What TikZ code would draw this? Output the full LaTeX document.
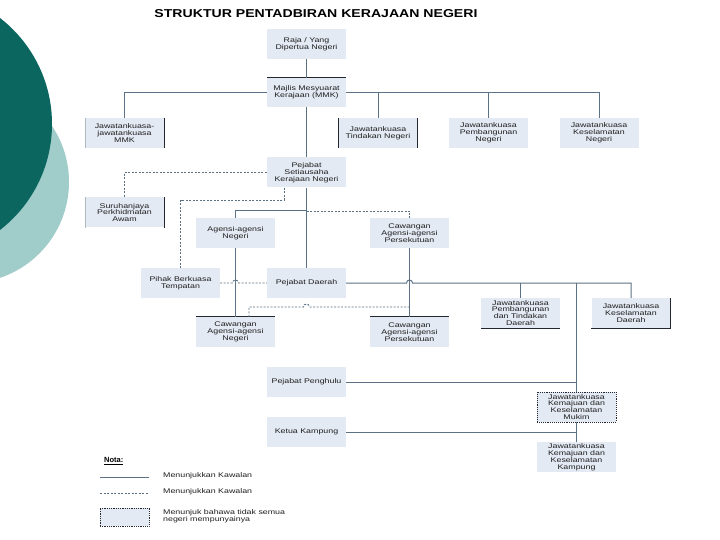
\documentclass[tikz,border=0pt]{standalone}
\usepackage{fontspec}
\setmainfont{Liberation Sans}
\newfontfamily\boxfnt[FakeStretch=1.3]{Liberation Sans}
\usetikzlibrary{calc}
\definecolor{boxfill}{RGB}{228,234,244}
\definecolor{lnc}{RGB}{92,114,132}
\definecolor{edgec}{RGB}{35,40,48}
\definecolor{darkteal}{RGB}{12,102,96}
\definecolor{lightteal}{RGB}{160,204,202}
\definecolor{txt}{RGB}{30,30,30}
\begin{document}
\begin{tikzpicture}[x=1pt,y=-1pt,
  box/.style={fill=boxfill, minimum width=79pt, minimum height=30pt, inner sep=1pt,
    align=center, font=\boxfnt\fontsize{6.8}{6.9}\selectfont, text=txt},
  conn/.style={draw=lnc, line width=1pt},
  dconn/.style={draw=lnc, line width=0.9pt, dash pattern=on 2pt off 1.5pt},
  edge/.style={draw=edgec, line width=1.1pt},
  legtext/.style={anchor=west, font=\boxfnt\fontsize{6.8}{7.2}\selectfont, text=txt, inner sep=0pt, align=left}]
\useasboundingbox (0,0) rectangle (720,540);
\fill[white] (0,0) rectangle (720,540);
% decoration
\begin{scope}
\clip (0,0) rectangle (720,540);
\fill[lightteal] (-32,182) circle[radius=101];
\fill[darkteal] (-82,124) circle[radius=134];
\end{scope}
% title
\node (title) at (316,14) {\resizebox{323pt}{8pt}{\bfseries STRUKTUR PENTADBIRAN KERAJAAN NEGERI}};
% nodes
\node[box] (raja)  at (306.5,44)  {Raja / Yang\\Dipertua Negeri};
\node[box, minimum height=29pt] (mmk) at (306.5,92.5) {Majlis Mesyuarat\\Kerajaan (MMK)};
\node[box] (jkmmk) at (124.5,133) {Jawatankuasa-\\jawatankuasa\\MMK};
\node[box] (tindn) at (378,133)   {Jawatankuasa\\Tindakan Negeri};
\node[box] (pemn)  at (488.5,133) {Jawatankuasa\\Pembangunan\\Negeri};
\node[box] (kesn)  at (599,133)   {Jawatankuasa\\Keselamatan\\Negeri};
\node[box] (suk)   at (306.5,172.5) {Pejabat\\Setiausaha\\Kerajaan Negeri};
\node[box] (spa)   at (124.5,212.5) {Suruhanjaya\\Perkhidmatan\\Awam};
\node[box] (agn)   at (235.5,233) {Agensi-agensi\\Negeri};
\node[box] (cpt)   at (409.5,233) {Cawangan\\Agensi-agensi\\Persekutuan};
\node[box] (pbt)   at (180.5,283) {Pihak Berkuasa\\Tempatan};
\node[box] (pd)    at (306.5,283) {Pejabat Daerah};
\node[box] (can)   at (235.5,332) {Cawangan\\Agensi-agensi\\Negeri};
\node[box] (cpl)   at (409.5,332) {Cawangan\\Agensi-agensi\\Persekutuan};
\node[box] (pmd)   at (520.5,313) {Jawatankuasa\\Pembangunan\\dan Tindakan\\Daerah};
\node[box] (ksd)   at (631,313)   {Jawatankuasa\\Keselamatan\\Daerah};
\node[box] (pp)    at (306.5,382) {Pejabat Penghulu};
\node[box] (kg)    at (306.5,432) {Ketua Kampung};
\node[box, draw=edgec, line width=0.9pt, densely dotted] (mukim) at (576.5,407) {Jawatankuasa\\Kemajuan dan\\Keselamatan\\Mukim};
\node[box] (kk)    at (576.5,457) {Jawatankuasa\\Kemajuan dan\\Keselamatan\\Kampung};
% dark edges
\draw[edge] (mmk.north west) -- (mmk.north east);
\draw[edge] (jkmmk.north east) -- (jkmmk.south east);
\draw[draw=lnc!50, line width=0.6pt] (jkmmk.north west) -- (jkmmk.south west);
\draw[edge] (tindn.north west) -- (tindn.south west);
\draw[edge] (tindn.north east) -- (tindn.south east);
\draw[edge] (spa.north east) -- (spa.south east);
\draw[draw=lnc!50, line width=0.6pt] (spa.north west) -- (spa.south west);
\draw[edge] (can.north west) -- (can.north east);
\draw[edge] (cpl.north west) -- (cpl.north east);
\draw[edge] (pmd.south west) -- (pmd.south east);
\draw[edge] (ksd.north east) -- (ksd.south east) -- (ksd.south west);
% coordinates
\coordinate (c1) at (284,200);
\coordinate (cbus) at (306.5,211);
\coordinate (cdl) at (249,307);
\coordinate (pdr) at (631,283);
% connectors
\draw[conn] (raja.south) -- (mmk.north);
\draw[conn] (mmk.south) -- (suk.north);
\draw[conn] (jkmmk.north) |- (mmk.west);
\draw[conn] (mmk.east) -| (kesn.north);
\draw[conn] (tindn.north) -- (tindn.north |- mmk.east);
\draw[conn] (pemn.north) -- (pemn.north |- mmk.east);
\draw[dconn] (suk.west) -| (spa.north);
\draw[dconn] (suk.south -| c1) -- (c1) -| (pbt.north);
\draw[conn] (suk.south) -- (pd.north);
\draw[conn] (agn.north) |- (cbus);
\draw[dconn] (cbus) -| (cpt.north);
\draw[conn] (agn.south) -- (can.north);
\draw[conn] (cpt.south) -- (cpl.north);
\draw[dconn] (pbt.east) -- (232.5,283) arc[start angle=180, end angle=360, radius=3] -- (pd.west);
\draw[dconn] (can.north -| cdl) -- (cdl) -- (303.5,307) arc[start angle=180, end angle=360, radius=3] -- (cpl.north |- cdl);
\draw[conn] (pd.east) -- (406.5,283) arc[start angle=180, end angle=360, radius=3] -- (pdr) -- (ksd.north);
\draw[conn] (pmd.north) -- (pmd.north |- pdr);
\draw[conn] (mukim.north |- pdr) -- (mukim.north);
\draw[conn] (pp.east) -- (pp.east -| mukim.north);
\draw[conn] (mukim.south) -- (kk.north);
\draw[conn] (kg.east) -- (kg.east -| mukim.north);
% legend
\node[anchor=west, inner sep=0pt, font=\fontsize{7.5}{8}\selectfont\bfseries] (nota) at (104,461) {\underline{Nota:}};
\coordinate (l1a) at (100,477); \coordinate (l1b) at (149,477);
\coordinate (l2a) at (100,493); \coordinate (l2b) at (149,493);
\draw[conn, line width=0.9pt] (l1a) -- (l1b);
\draw[dconn] (l2a) -- (l2b);
\node[fill=boxfill, draw=edgec, densely dotted, line width=0.8pt, minimum width=49pt, minimum height=18pt, inner sep=0pt] (legbox) at (124.5,517) {};
\node[legtext] (t1) at (163,476) {Menunjukkan Kawalan};
\node[legtext] (t2) at (163,492) {Menunjukkan Kawalan};
\node[legtext] (t3) at (163,516.5) {Menunjuk bahawa tidak semua\\negeri mempunyainya};
\end{tikzpicture}
\end{document}
